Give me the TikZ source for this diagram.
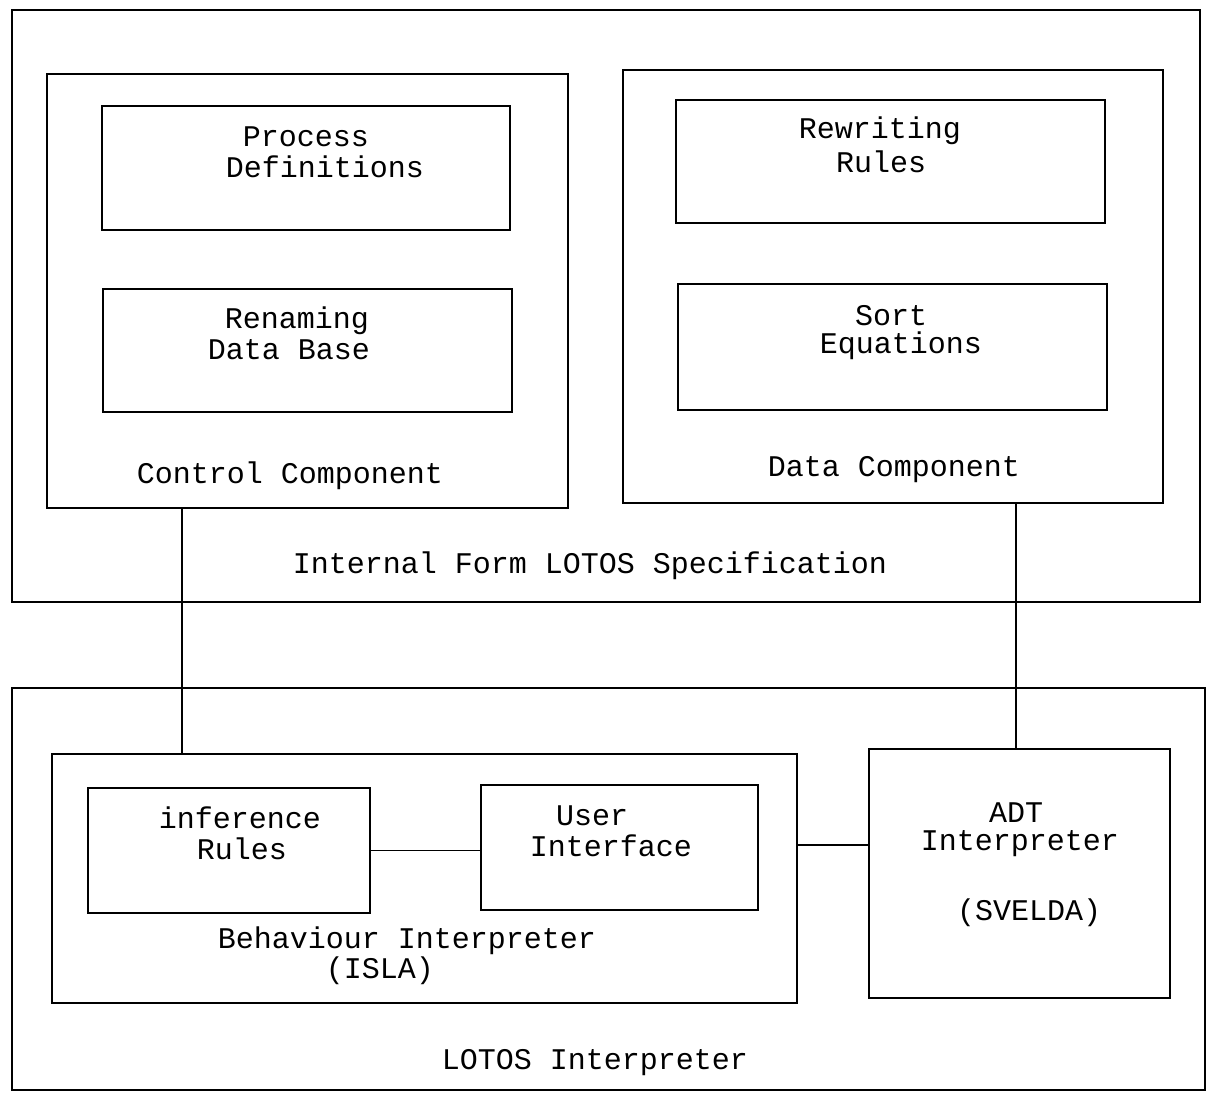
\documentclass[tikz,border=0pt]{standalone}
\usepackage{fontspec}
\setmainfont{Liberation Mono}
\begin{document}
\begin{tikzpicture}[x=1pt,y=-1pt,
  box/.style={draw=black, line width=1.6pt, rectangle, inner sep=0pt},
  lbl/.style={inner sep=0pt, text=black, font=\fontsize{30}{30}\selectfont},
  conn/.style={draw=black, line width=1.6pt}]
\useasboundingbox (0,0) rectangle (1207,1095);
% top outer box
\node[box, minimum width=1188pt, minimum height=592pt] (spec) at (606,306) {};
\node[box, minimum width=521pt, minimum height=434pt] (ctrl) at (307.5,291) {};
\node[box, minimum width=408pt, minimum height=124pt] (proc) at (306,168) {};
\node[box, minimum width=409pt, minimum height=123pt] (ren) at (307.5,350.5) {};
\node[box, minimum width=540pt, minimum height=433pt] (data) at (893,286.5) {};
\node[box, minimum width=429pt, minimum height=123pt] (rew) at (890.5,161.5) {};
\node[box, minimum width=429pt, minimum height=126pt] (sort) at (892.5,347) {};
% bottom
\node[box, minimum width=1193pt, minimum height=402pt] (lint) at (608.5,889) {};
\node[box, minimum width=745pt, minimum height=249pt] (behav) at (424.5,878.5) {};
\node[box, minimum width=282pt, minimum height=125pt] (inf) at (229,850.5) {};
\node[box, minimum width=277pt, minimum height=125pt] (user) at (619.5,847.5) {};
\node[box, minimum width=301pt, minimum height=249pt] (adt) at (1019.5,873.5) {};
% labels
\node[lbl] (t1) at (306,137) {Process};
\node[lbl] (t2) at (325,167) {Definitions};
\node[lbl] (t3) at (297,321) {Renaming};
\node[lbl] (t4) at (289,350) {Data Base};
\node[lbl] (t5) at (290,476) {Control Component};
\node[lbl] (t6) at (880,131) {Rewriting};
\node[lbl] (t7) at (881,162) {Rules};
\node[lbl] (t8) at (891,316) {Sort};
\node[lbl] (t9) at (901,346) {Equations};
\node[lbl] (t10) at (894,470) {Data Component};
\node[lbl] (t11) at (590,566) {Internal Form LOTOS Specification};
\node[lbl] (t12) at (240,818) {inference};
\node[lbl] (t13) at (242,849) {Rules};
\node[lbl] (t14) at (592,816) {User};
\node[lbl] (t15) at (611,846) {Interface};
\node[lbl] (t16) at (1016,813) {ADT};
\node[lbl] (t17) at (1020,844) {Interpreter};
\node[lbl] (t18) at (1029,913) {(SVELDA)};
\node[lbl] (t19) at (407,941) {Behaviour Interpreter};
\node[lbl] (t20) at (380,971) {(ISLA)};
\node[lbl] (t21) at (595,1063) {LOTOS Interpreter};
% connectors
\coordinate (cx1) at (182,0);
\coordinate (cx2) at (1016,0);
\coordinate (cy2) at (0,845);
\draw[conn] (cx1 |- ctrl.south) -- (cx1 |- behav.north);
\draw[conn] (cx2 |- data.south) -- (cx2 |- adt.north);
\draw[conn] (inf.east) -- (inf.east -| user.west);
\draw[conn] (behav.east |- cy2) -- (adt.west |- cy2);
\end{tikzpicture}
\end{document}
